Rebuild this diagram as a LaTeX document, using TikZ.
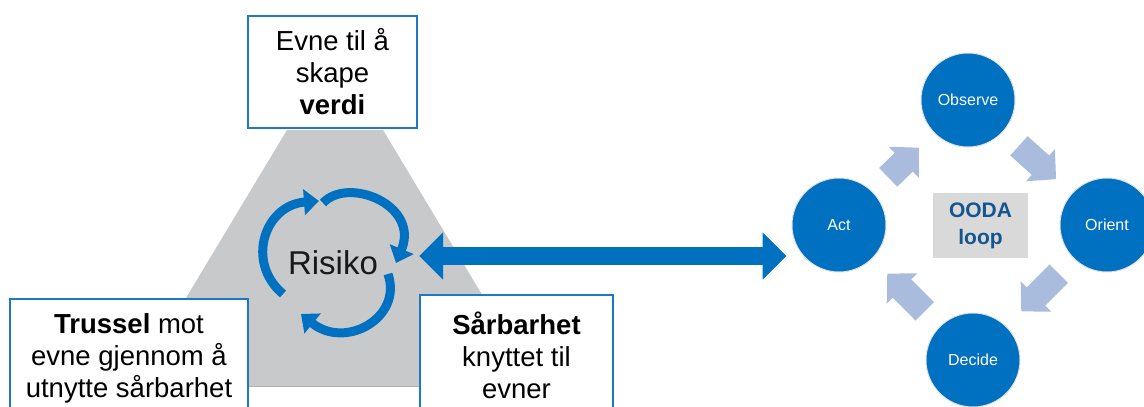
\documentclass[tikz,border=0pt]{standalone}
\usepackage{fontspec}
\setmainfont{Liberation Sans}
\usepackage{tikz}
\usetikzlibrary{arrows.meta}
\tikzstyle{capbox} = [rectangle, draw=boxblue, line width=2pt, fill=white, align=center, inner sep=0pt, font=\fontsize{27.5}{32}\selectfont]
\tikzstyle{phase} = [circle, fill=oodablue, draw=black!12, line width=1pt, minimum size=94pt, inner sep=0pt, text=white, font=\fontsize{16}{18}\selectfont]
\tikzstyle{spin} = [line width=9pt, draw=oodablue, -{Triangle[length=15pt,width=25pt]}]
\tikzstyle{linkarrow} = [line width=18pt, draw=oodablue, {Triangle[length=24pt,width=46pt]}-{Triangle[length=24pt,width=46pt]}]
\tikzstyle{loopstep} = [line width=26pt, draw=stepblue, -{Triangle[length=21pt,width=42pt]}, shorten <=21pt, shorten >=21pt]
\definecolor{boxblue}{RGB}{30,120,200}
\definecolor{oodablue}{RGB}{0,112,192}
\definecolor{stepblue}{RGB}{169,188,221}
\definecolor{riskgray}{RGB}{200,201,203}
\definecolor{loopbox}{RGB}{217,217,217}
\definecolor{looptext}{RGB}{20,85,145}

\begin{document}
\begin{tikzpicture}[x=1pt,y=1pt]
\clip (0,0) rectangle (1144,-407);
% risk triangle
\fill[riskgray] (133,-386) -- (287,-130) -- (383,-130) -- (537,-386) -- cycle;
\draw[black!30, line width=0.8pt] (133,-386) -- (537,-386);

\node (evne) [capbox, minimum width=169pt, minimum height=112pt] at (332.5,-72) {Evne til å\\skape\\\textbf{verdi}};
\node (trussel) [capbox, minimum width=238pt, minimum height=119pt] at (129,-358.5) {\textbf{Trussel} mot\\evne gjennom å\\utnytte sårbarhet};
\node (saarbar) [capbox, minimum width=193pt, minimum height=121pt] at (516.5,-355.5) {\textbf{Sårbarhet}\\knyttet til\\evner};

\node (risiko) [circle, minimum size=172pt, inner sep=0pt, text=black!90, font=\fontsize{33}{36}\selectfont] at (333,-263) {Risiko};
\draw[spin] (283,-294) .. controls (245,-262) and (265,-205) .. (319,-201);
\draw[spin] (323,-203) .. controls (348,-176) and (420,-205) .. (396,-263);
\draw[spin] (388,-274) .. controls (403,-318) and (345,-350) .. (301,-314);

% OODA loop
\node (observe) [phase] at (968,-100) {Observe};
\node (orient) [phase] at (1107,-225) {Orient};
\node (decide) [phase] at (973,-360) {Decide};
\node (act) [phase] at (839,-225) {Act};
\node (ooda) [rectangle, fill=loopbox, minimum width=95pt, minimum height=65pt, align=center, text=looptext, font=\fontsize{21}{27}\selectfont\bfseries] at (980.5,-225.5) {OODA\\loop};

\draw[loopstep] (act) -- (observe);
\draw[loopstep] (observe) -- (orient);
\draw[loopstep] (orient) -- (decide);
\draw[loopstep] (decide) -- (act);

\draw[linkarrow, shorten >=5pt] ([yshift=7pt]risiko.east) -- ([yshift=7pt]risiko.east -| act.west);
\end{tikzpicture}
\end{document}
